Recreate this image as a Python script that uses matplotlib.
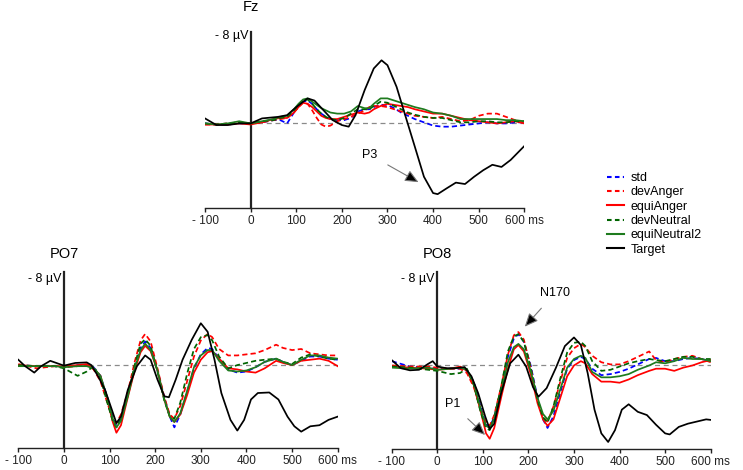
import matplotlib
matplotlib.use("Agg")
import matplotlib.pyplot as plt
from matplotlib.lines import Line2D

plt.rcParams['font.family'] = ['Liberation Sans', 'DejaVu Sans']

# ---------------- data (µV, negative plotted upward) ----------------
conditions = ['std', 'devAnger', 'equiAnger', 'devNeutral', 'equiNeutral2', 'Target']
colors = ['#0000ff', '#ff0000', '#ff0000', '#006400', '#1e7b1e', '#000000']
dashed = [True, True, False, True, False, False]

xticks = [-100, 0, 100, 200, 300, 400, 500, 600]
xticklabels = ['- 100', '0', '100', '200', '300', '400', '500', '600 ms']

# Fz
fz_t = [-100, -75, -50, -25, 0, 25, 50, 65, 80, 95, 105, 115, 125, 135, 145, 155, 165, 175, 190, 205,
        220, 235, 250, 260, 270, 285, 300, 315, 330, 345, 360, 380, 400, 420, 440, 460, 480, 500, 520,
        540, 560, 580, 600]
fz_std = [0.0, 0.1, 0.1, 0.0, 0.0, -0.1, -0.3, -0.3, 0.0, -1.0, -1.6, -2.0, -2.1, -1.8, -1.3, -0.9, -0.6,
          -0.4, -0.3, -0.3, -0.5, -1.1, -1.3, -1.3, -1.5, -1.7, -1.7, -1.4, -1.0, -0.7, -0.4, -0.1, 0.2,
          0.3, 0.3, 0.2, 0.1, 0.0, -0.1, 0.0, 0.0, -0.1, -0.1]
fz_devAnger = [0.1, 0.1, 0.0, -0.1, 0.0, -0.1, -0.3, -0.4, -0.5, -1.0, -1.5, -1.9, -1.8, -1.2, -0.5, 0.1,
               0.3, 0.2, -0.2, -0.4, -0.6, -0.9, -1.2, -1.5, -1.6, -1.6, -1.5, -1.3, -1.1, -0.9, -0.7,
               -0.6, -0.5, -0.6, -0.4, -0.2, -0.3, -0.7, -0.9, -0.9, -0.6, -0.3, -0.1]
fz_equiAnger = [0.1, 0.1, 0.1, 0.0, 0.1, -0.1, -0.4, -0.5, -0.5, -1.0, -1.5, -1.9, -1.8, -1.5, -1.1, -0.7,
                -0.5, -0.4, -0.4, -0.6, -0.8, -1.0, -0.9, -1.0, -1.3, -1.6, -1.8, -1.7, -1.6, -1.5, -1.3,
                -1.1, -0.9, -0.9, -0.7, -0.5, -0.3, -0.2, -0.1, 0.0, -0.1, -0.2, 0.0]
fz_devNeutral = [0.0, 0.1, 0.0, -0.1, 0.0, -0.2, -0.3, -0.5, -0.6, -1.2, -1.7, -2.1, -2.2, -1.8, -1.3,
                 -0.9, -0.6, -0.4, -0.3, -0.5, -0.9, -1.3, -1.3, -1.3, -1.6, -2.0, -1.9, -1.6, -1.3, -1.0,
                 -0.8, -0.6, -0.5, -0.5, -0.3, -0.1, -0.1, -0.2, -0.2, -0.1, -0.1, -0.2, -0.2]
fz_equiNeutral2 = [0.0, 0.1, 0.0, -0.2, 0.0, -0.2, -0.4, -0.6, -0.7, -1.3, -1.8, -2.2, -2.3, -2.0, -1.7,
                   -1.4, -1.2, -1.0, -0.9, -0.9, -1.1, -1.6, -1.4, -1.4, -1.8, -2.3, -2.3, -2.1, -1.9, -1.7,
                   -1.5, -1.3, -1.0, -0.9, -0.7, -0.4, -0.4, -0.4, -0.4, -0.4, -0.3, -0.3, -0.2]
fz_target_t = [-100, -75, -50, -25, 0, 25, 60, 80, 100, 125, 140, 160, 180, 200, 215, 230, 250, 270, 287,
               300, 320, 340, 360, 380, 400, 410, 430, 450, 470, 490, 510, 530, 550, 570, 600]
fz_target = [-0.46, 0.15, 0.15, 0.0, 0.0, -0.46, -0.6, -0.76, -1.5, -2.3, -2.1, -1.2, -0.3, 0.15, 0.3,
             -0.76, -3.06, -5.05, -5.8, -5.35, -3.36, -0.6, 2.14, 4.9, 6.4, 6.5, 5.96, 5.44, 5.57, 4.9,
             4.3, 3.8, 4.0, 3.36, 2.08]

# PO7 / PO8 share one time grid for the coloured conditions
po_t = [-100, -60, -20, 0, 30, 50, 65, 80, 95, 107, 115, 125, 140, 155, 168, 178, 190, 205, 220, 232,
        242, 255, 270, 285, 300, 315, 325, 340, 360, 380, 400, 420, 440, 465, 480, 500, 520, 540, 560,
        580, 600]

po7_std = [0, 0.1, 0.1, 0.2, 0, 0, 0.2, 1.0, 3.0, 4.8, 5.6, 5.0, 2.8, 0.3, -1.6, -2.2, -1.6, 0.5, 3.0,
           4.8, 5.8, 4.6, 2.5, 0.3, -1.0, -1.6, -1.5, -0.6, 0.4, 0.7, 0.6, 0.2, -0.3, -0.6, -0.3, 0.0,
           -0.4, -0.8, -0.8, -0.6, -0.5]
po7_devAnger = [-0.1, 0.3, 0.1, 0.2, 0.1, 0, 0.4, 1.5, 3.5, 5.0, 5.4, 4.6, 2.5, -0.3, -2.3, -2.9, -2.2,
                0.3, 3.0, 4.6, 5.0, 3.8, 1.5, -0.8, -2.3, -2.9, -2.6, -1.5, -0.9, -0.9, -1.0, -1.1, -1.4,
                -1.9, -1.6, -1.4, -1.5, -1.1, -1.0, -0.9, -0.9]
po7_equiAnger = [0, 0.1, 0.1, 0.1, 0, -0.1, 0.3, 1.0, 3.2, 5.3, 6.3, 5.6, 3.0, 0.5, -1.2, -1.8, -1.3, 0.5,
                 3.2, 4.8, 5.3, 4.6, 2.8, 0.7, -0.5, -1.2, -1.3, -0.6, 0.3, 0.4, 0.6, 0.7, 0.3, -0.4,
                 -0.2, 0.0, -0.4, -0.5, -0.6, -0.4, 0.1]
po7_devNeutral = [0, 0.1, 0.1, 0.3, 1.0, 0.6, 0.1, 1.2, 3.5, 5.2, 5.8, 5.0, 2.8, 0.0, -2.0, -2.4, -1.8,
                  0.6, 3.3, 4.8, 5.0, 3.5, 0.8, -1.5, -2.6, -2.8, -2.3, -0.8, 0.3, 0.0, -0.2, -0.4, -0.5,
                  -0.6, -0.3, -0.1, -0.7, -1.0, -0.8, -0.6, -0.5]
po7_equiNeutral2 = [0.1, 0.1, 0.1, 0.2, 0.1, 0.1, 0.3, 1.0, 3.0, 5.0, 5.8, 5.2, 2.9, 0.3, -1.4, -2.0,
                    -1.4, 0.5, 3.2, 4.8, 5.3, 4.5, 2.4, 0.2, -0.9, -1.4, -1.4, -0.4, 0.5, 0.6, 0.5, 0.2,
                    -0.3, -0.6, -0.3, 0.0, -0.5, -0.9, -0.9, -0.7, -0.6]
po7_target_t = [-100, -85, -65, -50, -30, -10, 0, 25, 50, 60, 75, 90, 105, 115, 125, 140, 160, 178, 190,
                205, 220, 230, 245, 260, 280, 300, 315, 330, 345, 365, 380, 395, 410, 425, 450, 470, 490,
                505, 520, 540, 560, 580, 600]
po7_target = [-0.5, 0.1, 0.7, 0.1, -0.4, -0.1, 0.05, -0.2, -0.25, 0, 1.05, 2.3, 4.15, 5.4, 4.8, 2.3, 0.1,
              -0.9, -0.5, 1.35, 2.9, 3.0, 1.35, -0.5, -2.35, -3.9, -3.1, -0.5, 2.6, 5.1, 6.1, 5.1, 3.2,
              2.6, 2.55, 3.2, 4.8, 5.7, 6.2, 5.7, 5.6, 5.1, 4.8]

po8_std = [-0.4, 0.1, 0.2, 0.3, 0.3, 0.3, 0.5, 1.5, 3.8, 5.5, 5.7, 4.8, 2.3, -0.8, -2.5, -2.9, -2.2, 0.0,
           3.0, 5.0, 5.8, 4.7, 2.5, 0.3, -0.5, -0.8, -0.6, 0.3, 0.9, 0.8, 0.6, 0.3, -0.1, -0.6, -0.7,
           -0.4, -0.4, -0.6, -0.7, -0.6, -0.4]
po8_devAnger = [0, 0.1, 0.1, 0.2, 0.3, 0.3, 0.7, 2.0, 4.0, 5.3, 5.6, 4.6, 2.0, -1.0, -2.8, -3.1, -2.4,
                0.2, 3.2, 4.8, 5.2, 3.8, 1.5, -0.7, -1.6, -2.0, -1.7, -0.9, -0.3, -0.1, -0.1, -0.4, -0.8,
                -1.3, -0.5, -0.3, -0.6, -0.8, -0.9, -0.6, -0.3]
po8_equiAnger = [0.1, 0.2, 0.3, 0.4, 0.3, 0.1, 0.5, 1.8, 4.2, 6.3, 6.8, 5.8, 3.0, 0.3, -1.5, -1.9, -1.3,
                 0.8, 3.5, 5.0, 5.6, 5.0, 3.0, 1.0, 0.0, -0.4, -0.2, 0.8, 1.5, 1.5, 1.6, 1.3, 0.9, 0.5,
                 0.3, 0.3, 0.5, 0.2, 0.0, -0.3, -0.5]
po8_devNeutral = [0.1, 0.2, 0.4, 0.5, 0.8, 0.7, 0.3, 1.8, 4.3, 5.8, 6.0, 4.8, 2.0, -1.3, -2.7, -2.9,
                  -2.2, 0.2, 3.2, 4.8, 5.3, 3.8, 1.2, -1.2, -2.1, -2.2, -1.8, -0.4, 0.5, 0.4, 0.1, -0.2,
                  -0.4, -0.6, -0.5, -0.4, -0.6, -0.8, -0.8, -0.6, -0.6]
po8_equiNeutral2 = [0.2, 0.3, 0.2, 0.4, 0.3, 0.2, 0.4, 1.6, 4.0, 5.6, 5.8, 5.0, 2.5, -0.3, -1.7, -2.0,
                    -1.5, 0.5, 3.0, 4.5, 5.0, 4.2, 2.2, 0.2, -0.6, -0.9, -0.7, 0.6, 1.1, 1.1, 1.0, 0.8,
                    0.4, 0.0, -0.3, -0.2, -0.4, -0.7, -0.6, -0.6, -0.4]
po8_target_t = [-100, -80, -60, -40, -20, -10, 0, 20, 40, 60, 75, 90, 105, 115, 125, 140, 160, 178, 195,
                210, 222, 240, 260, 280, 300, 315, 330, 345, 360, 375, 390, 405, 420, 440, 460, 480, 500,
                510, 530, 550, 570, 590, 600]
po8_target = [-0.5, 0.25, 0.45, 0.4, -0.15, -0.4, 0.1, 0.25, 0.25, 0.15, 1.0, 2.6, 4.7, 5.9, 5.4, 2.6,
              -0.2, -1.0, 0.1, 2.0, 2.9, 2.1, 0.25, -1.8, -2.6, -1.9, 0.7, 4.1, 6.3, 7.1, 6.0, 4.1, 3.6,
              4.3, 4.6, 5.5, 6.3, 6.4, 5.7, 5.4, 5.2, 5.0, 5.05]

# ---------------- drawing ----------------
W, H = 743, 470
fig = plt.figure(figsize=(W / 100, H / 100), dpi=100)


def px_axes(x0, x1, ytop, ybot):
    return fig.add_axes([x0 / W, 1 - ybot / H, (x1 - x0) / W, (ybot - ytop) / H])


def setup(ax, title, ylim, title_y):
    ax.set_xlim(-100, 600)
    ax.set_ylim(*ylim)  # inverted: negative up
    for s in ['top', 'right']:
        ax.spines[s].set_visible(False)
    ax.spines['left'].set_position(('data', 0))
    ax.spines['left'].set_linewidth(1.6)
    ax.spines['left'].set_color('#222222')
    ax.spines['bottom'].set_linewidth(1.0)
    ax.spines['bottom'].set_color('#222222')
    ax.set_yticks([])
    ax.set_xticks(xticks)
    ax.set_xticklabels(xticklabels, fontsize=8.5)
    ax.tick_params(axis='x', direction='out', length=3, width=1.0, pad=2, colors='#222222')
    ax.axhline(0, color='#8a8a8a', lw=0.9, ls=(0, (4, 3)), zorder=1)
    ax.text(-5, -8, '- 8 µV', ha='right', va='center', fontsize=9)
    ax.text(0, title_y, title, transform=ax.get_xaxis_transform(), ha='center', va='bottom', fontsize=10.5)


def draw(ax, t, series, tt, target):
    for i, vals in enumerate(series):
        ls = (0, (3, 1.8)) if dashed[i] else '-'
        ax.plot(t, vals, color=colors[i], lw=1.25, ls=ls, zorder=2 + i)
    ax.plot(tt, target, color=colors[5], lw=1.25, zorder=8)


def arrow(ax, text, xytext, xy):
    ax.annotate(text, xy=xy, xytext=xytext, fontsize=9, ha='center', va='center',
                arrowprops=dict(arrowstyle='-|>,head_length=0.9,head_width=0.4', ec='#777777',
                                fc='black', lw=0.8, shrinkA=6, shrinkB=0), zorder=10)


ax_fz = px_axes(205, 524.3, 32, 208.3)
setup(ax_fz, 'Fz', (7.8, -8.4), 1.10)
draw(ax_fz, fz_t, [fz_std, fz_devAnger, fz_equiAnger, fz_devNeutral, fz_equiNeutral2], fz_target_t, fz_target)
arrow(ax_fz, 'P3', (262, 2.9), (368, 5.4))

ax_po7 = px_axes(18.3, 337.7, 271.7, 448.3)
setup(ax_po7, 'PO7', (7.75, -8.7), 1.06)
draw(ax_po7, po_t, [po7_std, po7_devAnger, po7_equiAnger, po7_devNeutral, po7_equiNeutral2], po7_target_t, po7_target)

ax_po8 = px_axes(391.7, 710.7, 271.7, 449)
setup(ax_po8, 'PO8', (7.75, -8.7), 1.06)
draw(ax_po8, po_t, [po8_std, po8_devAnger, po8_equiAnger, po8_devNeutral, po8_equiNeutral2], po8_target_t, po8_target)
arrow(ax_po8, 'N170', (258, -6.7), (192, -3.6))
arrow(ax_po8, 'P1', (33, 3.6), (105, 6.45))

handles = [Line2D([], [], color=colors[i], lw=1.5, ls=(0, (2.2, 1.6)) if dashed[i] else '-')
           for i in range(len(conditions))]
fig.legend(handles, conditions, loc='upper left', bbox_to_anchor=(601 / W, 1 - 166 / H), frameon=False,
           fontsize=9, handlelength=1.3, handletextpad=0.55, labelspacing=0.18, borderpad=0)

fig.savefig('out.png', dpi=100)
